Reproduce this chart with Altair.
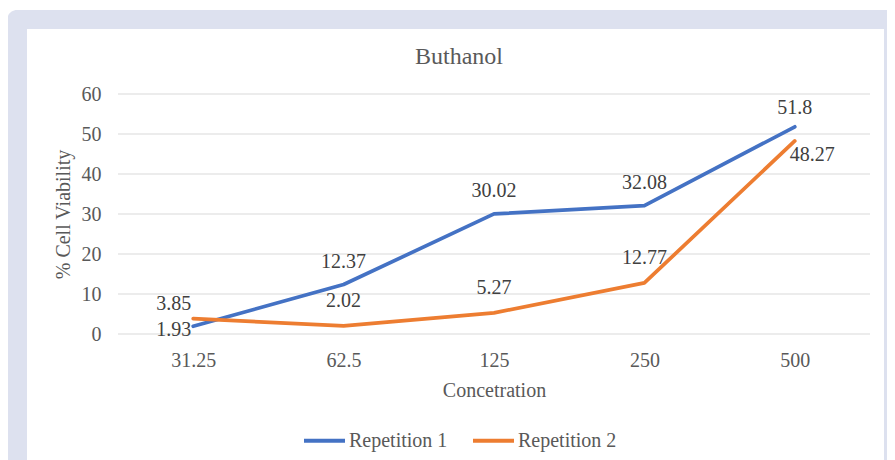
import altair as alt
import pandas as pd

concentrations = ["31.25", "62.5", "125", "250", "500"]
rep1 = [1.93, 12.37, 30.02, 32.08, 51.8]
rep2 = [3.85, 2.02, 5.27, 12.77, 48.27]
series_names = ["Repetition 1", "Repetition 2"]
colors = ["#4472c4", "#ed7d31"]
y_ticks = [0, 10, 20, 30, 40, 50, 60]
chart_title = "Buthanol"

rows = []
for name, vals in zip(series_names, [rep1, rep2]):
    for c, v in zip(concentrations, vals):
        rows.append({"conc": c, "value": v, "series": name, "label": f"{v:g}"})
df = pd.DataFrame(rows)
grid_df = pd.DataFrame({"tick": y_ticks})

FONT = "Liberation Serif"
TXT = "#595959"

x_scale = alt.Scale(type="point", padding=0.5)
x_axis = alt.Axis(title="Concetration", labelAngle=0, ticks=False, domain=False,
                  grid=False, labelPadding=16, titlePadding=10, zindex=2)
y_scale = alt.Scale(domain=[0, 60], nice=False)
y_axis = alt.Axis(title="% Cell Viability", values=y_ticks, ticks=False,
                  domain=False, grid=False, labelPadding=17, titlePadding=8,
                  labelOverlap=False, zindex=2)
x_enc = alt.X("conc:N", sort=concentrations, scale=x_scale, axis=x_axis)
y_enc = alt.Y("value:Q", scale=y_scale, axis=y_axis)

one = pd.DataFrame({"a": [0]})
outer = alt.Chart(one).mark_rect(color="#dde1ef", cornerRadius=10).encode(
    x=alt.value(-111), x2=alt.value(800), y=alt.value(-84), y2=alt.value(420))
inner = alt.Chart(one).mark_rect(color="#ffffff").encode(
    x=alt.value(-91), x2=alt.value(766), y=alt.value(-65), y2=alt.value(420))
title_txt = alt.Chart(pd.DataFrame({"t": [chart_title]})).mark_text(
    font=FONT, fontSize=24, color=TXT, baseline="middle", align="center").encode(
    x=alt.value(341), y=alt.value(-37), text="t:N")

grid = alt.Chart(grid_df).mark_rule(color="#d9d9d9", strokeWidth=1).encode(
    y=alt.Y("tick:Q", scale=y_scale, axis=y_axis), x=alt.value(0), x2=alt.value(752))

lines = alt.Chart(df).mark_line(strokeWidth=3.7, strokeCap="round", strokeJoin="round").encode(
    x=x_enc, y=y_enc,
    color=alt.Color("series:N", scale=alt.Scale(domain=series_names, range=colors),
                    legend=alt.Legend(title=None, orient="none", legendX=184, legendY=324,
                                      direction="horizontal", symbolType="stroke",
                                      symbolSize=1681, symbolStrokeWidth=4,
                                      labelFontSize=20, labelFont=FONT, labelColor=TXT,
                                      columnPadding=17, labelOffset=2)))


def labels(cond, **kw):
    return alt.Chart(df).transform_filter(cond).mark_text(
        font=FONT, fontSize=20, color="#404040", baseline="middle", **kw).encode(
        x=x_enc, y=y_enc, text="label:N")


first = alt.FieldEqualPredicate(field="conc", equal=concentrations[0])
last = alt.FieldEqualPredicate(field="conc", equal=concentrations[-1])
is1 = alt.FieldEqualPredicate(field="series", equal=series_names[0])
is2 = alt.FieldEqualPredicate(field="series", equal=series_names[1])

t1a = labels({"and": [is1, {"not": first}, {"not": last}]}, dy=-23)
t1c = labels({"and": [is1, last]}, dy=-19)
t1b = labels({"and": [is1, first]}, align="right", dx=-2, dy=4)
t2a = labels({"and": [is2, {"not": first}, {"not": last}]}, dy=-25)
t2b = labels({"and": [is2, first]}, align="right", dx=-2, dy=-15)
t2c = labels({"and": [is2, last]}, align="left", dx=-5, dy=14)

chart = alt.layer(outer, inner, title_txt, grid, lines, t1a, t1c, t1b, t2a, t2b, t2c).properties(
    width=752, height=240,
    padding={"left": 110, "top": 86, "right": 17, "bottom": 126},
    autosize=alt.AutoSizeParams(type="none"),
    background="#ffffff",
).configure_axis(
    labelFont=FONT, labelFontSize=20, labelColor=TXT,
    titleFont=FONT, titleFontSize=20, titleFontWeight="normal", titleColor=TXT,
).configure_view(stroke=None)

chart.save("out.html", embed_options={"renderer": "svg", "actions": False})
